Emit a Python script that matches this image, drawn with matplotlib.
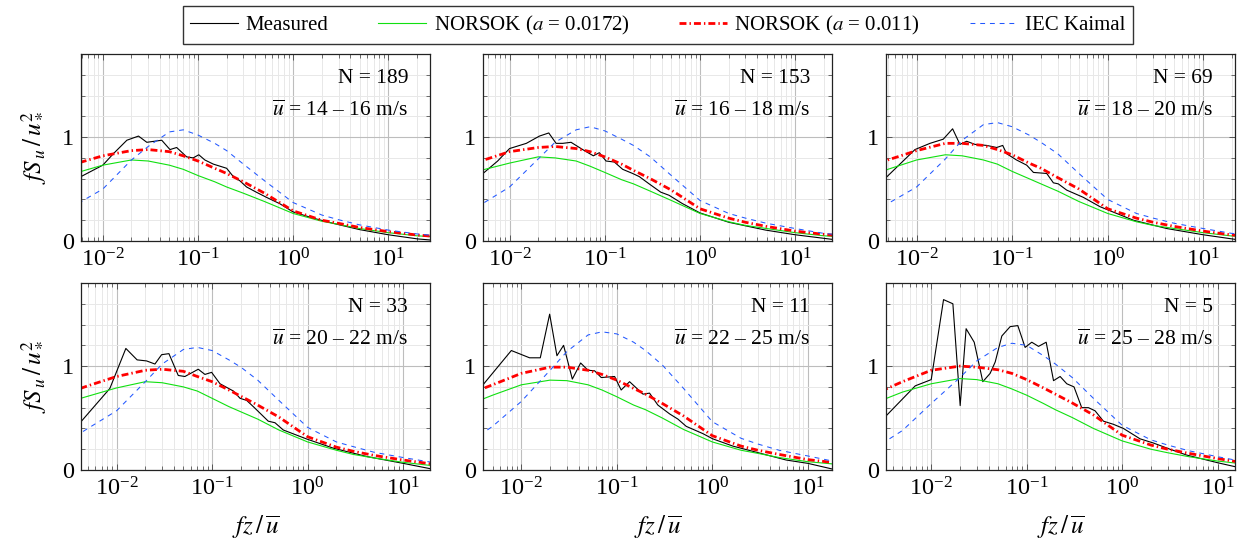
import matplotlib
matplotlib.use("Agg")
import matplotlib.pyplot as plt
from matplotlib.ticker import LogLocator, MultipleLocator, NullFormatter


plt.rcParams["font.family"] = "serif"
plt.rcParams["font.serif"] = ["Liberation Serif", "DejaVu Serif"]
plt.rcParams["mathtext.fontset"] = "stix"
plt.rcParams["lines.scale_dashes"] = False

# panel labels
n_runs = [189, 153, 69, 33, 11, 5]
u_bins = [(14, 16), (16, 18), (18, 20), (20, 22), (22, 25), (25, 28)]

# measured spectra
meas_x_1416 = [0.0059, 0.01, 0.0129, 0.0179, 0.0237, 0.029, 0.0416, 0.0508, 0.0597, 0.076, 0.089,
               0.102, 0.118, 0.145, 0.2, 0.235, 0.275, 0.324, 0.41, 0.525, 0.72, 1.0, 1.62,
               2.63, 4.97, 10, 20.3, 27.4]
meas_y_1416 = [0.62, 0.73, 0.84, 0.97, 1.01, 0.95, 0.97, 0.88, 0.90, 0.81, 0.80,
               0.83, 0.78, 0.74, 0.70, 0.62, 0.58, 0.52, 0.47, 0.42, 0.36, 0.28, 0.22,
               0.17, 0.11, 0.06, 0.02, 0.01]

meas_x_1618 = [0.00526, 0.0075, 0.01, 0.015, 0.0206, 0.0258, 0.0308, 0.0362, 0.0442, 0.0586, 0.0758,
               0.0876, 0.103, 0.126, 0.154, 0.196, 0.23, 0.292, 0.387, 0.473, 0.653, 1.0,
               2.01, 4.88, 10, 24.3]
meas_y_1618 = [0.65, 0.77, 0.89, 0.94, 1.01, 1.04, 0.94, 0.94, 0.95, 0.88, 0.82,
               0.85, 0.77, 0.76, 0.69, 0.65, 0.62, 0.55, 0.47, 0.44, 0.36, 0.27,
               0.18, 0.105, 0.06, 0.016]

meas_x_1820 = [0.00478, 0.0096, 0.0138, 0.019, 0.0238, 0.0284, 0.0334, 0.0408, 0.0541, 0.0689,
               0.0796, 0.0876, 0.111, 0.142, 0.167, 0.230, 0.270, 0.304, 0.372, 0.556, 0.832,
               1.0, 1.86, 4.15, 10, 21.5]
meas_y_1820 = [0.61, 0.88, 0.94, 0.98, 1.08, 0.93, 0.96, 0.93, 0.92, 0.90,
               0.92, 0.84, 0.78, 0.73, 0.66, 0.65, 0.56, 0.55, 0.49, 0.42, 0.33,
               0.30, 0.20, 0.12, 0.06, 0.016]

meas_x_2022 = [0.00424, 0.0085, 0.0125, 0.0164, 0.0206, 0.0252, 0.0296, 0.0353, 0.0442, 0.0519,
               0.0716, 0.0841, 0.0988, 0.121, 0.167, 0.196, 0.230, 0.270, 0.387, 0.455, 0.556,
               1.0, 1.86, 4.15, 10, 19.1]
meas_y_2022 = [0.465, 0.785, 1.17, 1.06, 1.05, 1.02, 1.11, 1.12, 0.91, 0.90,
               0.97, 0.92, 0.94, 0.83, 0.76, 0.69, 0.67, 0.61, 0.47, 0.455, 0.385,
               0.295, 0.21, 0.13, 0.064, 0.013]

meas_x_2225 = [0.00397, 0.00786, 0.0122, 0.0158, 0.0198, 0.0236, 0.0277, 0.0342, 0.0418, 0.0499,
               0.0585, 0.0687, 0.0948, 0.111, 0.136, 0.188, 0.220, 0.269, 0.357, 0.436, 0.533,
               0.797, 1.01, 1.64, 2.65, 5.93, 10, 17.9]
meas_y_2225 = [0.82, 1.15, 1.08, 1.08, 1.50, 1.10, 1.20, 0.875, 1.03, 0.96,
               0.955, 0.89, 0.90, 0.77, 0.85, 0.73, 0.74, 0.625, 0.54, 0.49, 0.42,
               0.35, 0.30, 0.23, 0.18, 0.096, 0.064, 0.01]

meas_x_2528 = [0.00336, 0.0068, 0.01, 0.01346, 0.01686, 0.0201, 0.0232, 0.0282, 0.0347, 0.0414,
               0.0468, 0.0549, 0.0671, 0.0807, 0.0963, 0.113, 0.133, 0.160, 0.191, 0.224,
               0.263, 0.313, 0.377, 0.443, 0.520, 0.636, 0.809, 1.03, 1.54, 2.12, 3.17,
               4.73, 10, 15.2]
meas_y_2528 = [0.52, 0.81, 0.87, 1.64, 1.60, 0.62, 1.36, 1.23, 0.85, 0.93,
               1.04, 1.29, 1.38, 1.39, 1.18, 1.23, 1.19, 1.23, 0.86, 0.90,
               0.83, 0.80, 0.60, 0.60, 0.57, 0.47, 0.44, 0.40, 0.30, 0.26, 0.20,
               0.144, 0.07, 0.032]

# model spectra, sampled on a common fz/u grid
model_x = [0.003, 0.005, 0.01, 0.02, 0.03, 0.05, 0.07, 0.1, 0.15, 0.2, 0.3, 0.5,
           1, 2, 3, 5, 10, 20, 30]

nor1_1416 = [0.55, 0.65, 0.73, 0.78, 0.77, 0.73, 0.69, 0.63, 0.57, 0.52, 0.46, 0.38, 0.265, 0.19, 0.16, 0.12, 0.08, 0.05, 0.04]
nor2_1416 = [0.65, 0.74, 0.82, 0.87, 0.88, 0.86, 0.82, 0.77, 0.70, 0.65, 0.57, 0.46, 0.29, 0.20, 0.17, 0.13, 0.09, 0.058, 0.045]
kai_1416 = [0.22, 0.34, 0.50, 0.78, 0.91, 1.05, 1.07, 1.02, 0.94, 0.87, 0.74, 0.58, 0.37, 0.25, 0.205, 0.155, 0.105, 0.068, 0.053]

nor1_1618 = [0.57, 0.68, 0.75, 0.81, 0.80, 0.77, 0.72, 0.66, 0.59, 0.55, 0.48, 0.39, 0.265, 0.185, 0.15, 0.12, 0.08, 0.05, 0.04]
nor2_1618 = [0.66, 0.77, 0.86, 0.90, 0.91, 0.89, 0.86, 0.81, 0.74, 0.68, 0.60, 0.49, 0.31, 0.22, 0.18, 0.14, 0.095, 0.064, 0.05]
kai_1618 = [0.22, 0.35, 0.52, 0.79, 0.95, 1.07, 1.10, 1.06, 0.98, 0.92, 0.81, 0.63, 0.39, 0.265, 0.22, 0.17, 0.12, 0.073, 0.058]

nor1_1820 = [0.58, 0.69, 0.78, 0.83, 0.82, 0.78, 0.74, 0.67, 0.60, 0.55, 0.48, 0.38, 0.265, 0.185, 0.15, 0.12, 0.08, 0.048, 0.04]
nor2_1820 = [0.66, 0.78, 0.87, 0.94, 0.94, 0.92, 0.88, 0.83, 0.75, 0.70, 0.61, 0.50, 0.31, 0.22, 0.18, 0.14, 0.095, 0.058, 0.047]
kai_1820 = [0.22, 0.36, 0.52, 0.79, 0.97, 1.12, 1.14, 1.10, 1.02, 0.95, 0.84, 0.65, 0.40, 0.265, 0.22, 0.17, 0.12, 0.073, 0.058]

nor1_2022 = [0.65, 0.71, 0.79, 0.85, 0.84, 0.80, 0.76, 0.69, 0.61, 0.56, 0.49, 0.385, 0.27, 0.19, 0.15, 0.115, 0.074, 0.042, 0.035]
nor2_2022 = [0.74, 0.81, 0.90, 0.96, 0.97, 0.95, 0.90, 0.85, 0.77, 0.71, 0.625, 0.51, 0.32, 0.22, 0.18, 0.14, 0.096, 0.058, 0.047]
kai_2022 = [0.27, 0.40, 0.57, 0.85, 1.02, 1.16, 1.18, 1.15, 1.06, 0.99, 0.865, 0.67, 0.41, 0.27, 0.225, 0.17, 0.12, 0.074, 0.06]

nor1_2225 = [0.64, 0.72, 0.82, 0.865, 0.86, 0.82, 0.77, 0.705, 0.625, 0.58, 0.50, 0.39, 0.27, 0.19, 0.16, 0.12, 0.08, 0.055, 0.045]
nor2_2225 = [0.74, 0.82, 0.93, 0.99, 0.99, 0.96, 0.92, 0.865, 0.785, 0.73, 0.64, 0.52, 0.33, 0.23, 0.19, 0.15, 0.10, 0.068, 0.055]
kai_2225 = [0.28, 0.42, 0.66, 0.96, 1.14, 1.30, 1.33, 1.31, 1.23, 1.15, 1.01, 0.785, 0.465, 0.305, 0.25, 0.19, 0.135, 0.078, 0.062]

nor1_2528 = [0.67, 0.75, 0.83, 0.88, 0.87, 0.83, 0.78, 0.72, 0.64, 0.58, 0.505, 0.40, 0.28, 0.20, 0.166, 0.128, 0.086, 0.055, 0.045]
nor2_2528 = [0.76, 0.85, 0.96, 1.00, 0.99, 0.965, 0.93, 0.87, 0.79, 0.73, 0.645, 0.53, 0.335, 0.24, 0.20, 0.16, 0.11, 0.065, 0.052]
kai_2528 = [0.25, 0.38, 0.64, 0.89, 1.05, 1.18, 1.22, 1.20, 1.10, 1.02, 0.89, 0.69, 0.43, 0.29, 0.24, 0.185, 0.128, 0.075, 0.06]

panels = [
    (meas_x_1416, meas_y_1416, nor1_1416, nor2_1416, kai_1416),
    (meas_x_1618, meas_y_1618, nor1_1618, nor2_1618, kai_1618),
    (meas_x_1820, meas_y_1820, nor1_1820, nor2_1820, kai_1820),
    (meas_x_2022, meas_y_2022, nor1_2022, nor2_2022, kai_2022),
    (meas_x_2225, meas_y_2225, nor1_2225, nor2_2225, kai_2225),
    (meas_x_2528, meas_y_2528, nor1_2528, nor2_2528, kai_2528),
]

W, H = 1247, 548
fig = plt.figure(figsize=(W / 100, H / 100), dpi=100)

col_left = [81, 483, 886]
row_top = [54, 283]
ax_w, ax_h = 349, 187

handles = None
for k, (mx, my, n1, n2, ka) in enumerate(panels):
    r, c = divmod(k, 3)
    ax = fig.add_axes([col_left[c] / W, (H - row_top[r] - ax_h) / H, ax_w / W, ax_h / H])
    ax.set_xscale("log")

    l1, = ax.plot(mx, my, color="black", lw=0.8, label="Measured")
    l2, = ax.plot(model_x, n1, color="#10e010", lw=0.8, label="NORSOK ($a$ = 0.0172)")
    l3, = ax.plot(model_x, n2, color="red", lw=2.0, dashes=(5, 2.2, 1, 2.2),
                  label="NORSOK ($a$ = 0.011)")
    l4, = ax.plot(model_x, ka, color="#2258ff", lw=0.75, dashes=(3.5, 3.5),
                  label="IEC Kaimal")
    handles = [l1, l2, l3, l4]

    ax.set_xlim(mx[0], mx[-1])
    ax.set_ylim(0, 1.8)
    ax.set_yticks([0, 1])
    ax.yaxis.set_minor_locator(MultipleLocator(0.2))
    ax.xaxis.set_major_locator(LogLocator(base=10, numticks=20))
    ax.xaxis.set_minor_locator(LogLocator(base=10, subs=range(2, 10), numticks=20))
    ax.xaxis.set_minor_formatter(NullFormatter())

    ax.set_axisbelow(True)
    ax.grid(which="minor", color="#e8e8e8", lw=0.7)
    ax.grid(which="major", color="#bdbdbd", lw=0.8)
    ax.tick_params(which="both", direction="in", top=True, right=True,
                   color="#555555", labelsize=17.5)
    ax.tick_params(which="major", length=4.5, width=0.7, pad=5)
    ax.tick_params(which="minor", length=3, width=0.6)
    for sp in ax.spines.values():
        sp.set_color("#222222")
        sp.set_linewidth(0.9)

    lo, hi = u_bins[k]
    ax.text(0.937, 0.845, f"N = {n_runs[k]}", transform=ax.transAxes,
            ha="right", va="baseline", fontsize=15.5)
    ax.text(0.937, 0.668, "$\\overline{u}$ = %d – %d m/s" % (lo, hi),
            transform=ax.transAxes, ha="right", va="baseline", fontsize=15.5)

    if c == 0:
        ax.set_ylabel("$fS_{\\,u}\\,/\\,u_*^2$", fontsize=18, labelpad=10)
    if r == 1:
        ax.set_xlabel("$fz\\,/\\,\\overline{u}$", fontsize=18, labelpad=10)

fig.legend(handles=handles, loc="center", bbox_to_anchor=(658 / W, 1 - 25 / H),
           ncol=4, fontsize=15, frameon=True, fancybox=False, framealpha=1,
           edgecolor="#333333", handlelength=2.3, handletextpad=0.35,
           columnspacing=2.4, borderpad=0.35)

fig.savefig("out.png", dpi=100)
